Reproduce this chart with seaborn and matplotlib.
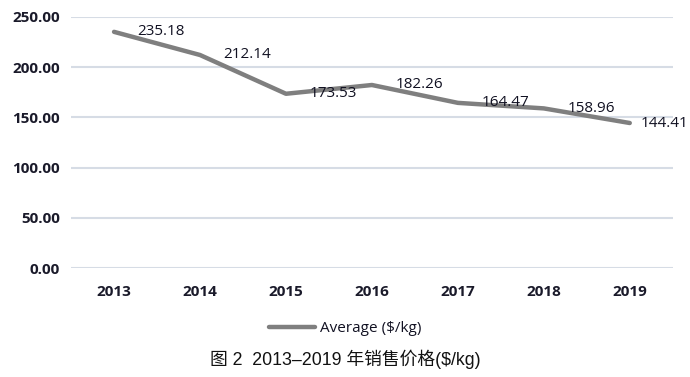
import matplotlib
matplotlib.use("Agg")
import matplotlib.pyplot as plt
import seaborn as sns
import pandas as pd

years = ["2013", "2014", "2015", "2016", "2017", "2018", "2019"]
prices = [235.18, 212.14, 173.53, 182.26, 164.47, 158.96, 144.41]
yticks = [0, 50, 100, 150, 200, 250]
series_name = "Average ($/kg)"
caption = "图 2  2013–2019 年销售价格($/kg)"

sns.set_theme(style="white")
plt.rcParams['font.family'] = ['Open Sans', 'DejaVu Sans']

df = pd.DataFrame({"year": years, "price": prices})

fig = plt.figure(figsize=(6.9, 3.77), dpi=100)
ax = fig.add_axes([0.103, 0.289, 0.872, 0.666])
sns.lineplot(data=df, x="year", y="price", ax=ax, color="#7f7f7f", linewidth=3.2,
             label=series_name, legend=False, solid_capstyle="round")

label_dx = [17, 17, 17, 17, 17, 17, 8]
for i, v in enumerate(prices):
    ax.annotate(f"{v:.2f}", (i, v), xytext=(label_dx[i], 0), textcoords="offset points",
                ha="left", va="center", fontsize=11, color="#111122", annotation_clip=False)

ax.set_xlim(-0.5, 6.5)
ax.set_ylim(0, 250)
ax.set_yticks(yticks)
ax.set_yticklabels([f"{t:.2f}" for t in yticks], fontsize=11, fontweight="bold", color="#1a1a2a")
ax.set_xticks(range(len(years)))
ax.set_xticklabels(years, fontsize=11, fontweight="bold", color="#1a1a2a")
ax.tick_params(axis="y", length=0, pad=8)
ax.tick_params(axis="x", length=0, pad=12)
ax.set_xlabel("")
ax.set_ylabel("")
ax.grid(axis="y", color="#d6dce5", linewidth=1.5)
ax.set_axisbelow(True)
for s in ax.spines.values():
    s.set_visible(False)

handles, labels = ax.get_legend_handles_labels()
leg = fig.legend(handles, labels, loc="center", bbox_to_anchor=(0.5, 0.128), frameon=False,
                 fontsize=11, handlelength=3.0, handletextpad=0.3)
for t in leg.get_texts():
    t.set_color("#111122")

fig.text(0.5, 0.048, caption, ha="center", va="center", fontsize=12.8,
         family=['Liberation Sans', 'Noto Sans CJK SC'], color="#111111")

fig.savefig("out.png", dpi=100)
